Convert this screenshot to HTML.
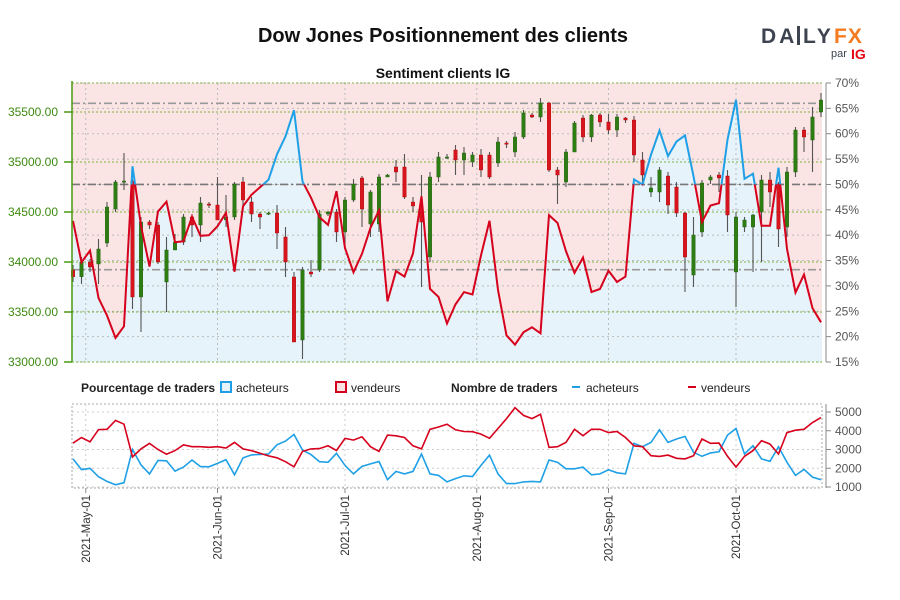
<!DOCTYPE html>
<html><head><meta charset="utf-8"><style>
body{margin:0;background:#fff;}
svg{display:block;font-family:"Liberation Sans Narrow","Liberation Sans",sans-serif;}
</style></head><body>
<svg id="c" width="900" height="600" viewBox="0 0 900 600">
<text x="443" y="42" text-anchor="middle" font-family="Liberation Sans, sans-serif" font-weight="bold" font-size="20" fill="#111">Dow Jones Positionnement des clients</text>
<text x="443" y="78" text-anchor="middle" font-family="Liberation Sans, sans-serif" font-weight="bold" font-size="14" fill="#111">Sentiment clients IG</text>
<g font-family="Liberation Sans, sans-serif" font-weight="bold">
<text x="761" y="43" font-size="21" fill="#3d4450" letter-spacing="3">DA</text>
<rect x="797" y="26" width="3" height="19" fill="#3d4450"/>
<text x="803" y="43" font-size="21" fill="#3d4450" letter-spacing="3">LY</text>
<text x="834" y="43" font-size="21" fill="#f47b20" letter-spacing="1">FX</text>
<text x="831" y="57" font-size="11" font-weight="normal" fill="#3d4450">par</text>
<text x="851" y="59" font-size="14" fill="#e30613">IG</text>
</g>
<g id="main"></g>
<g id="legend" font-size="12" fill="#222">
<text x="81" y="392" font-weight="bold">Pourcentage de traders</text>
<rect x="221" y="382" width="10" height="10" fill="#e6f3fb" stroke="#1fa0e6" stroke-width="2"/>
<text x="236" y="392">acheteurs</text>
<rect x="336" y="382" width="10" height="10" fill="#fbe4e4" stroke="#d6001c" stroke-width="2"/>
<text x="351" y="392">vendeurs</text>
<text x="451" y="392" font-weight="bold">Nombre de traders</text>
<rect x="572" y="386" width="8" height="2" fill="#1fa0e6"/>
<text x="586" y="392">acheteurs</text>
<rect x="688" y="386" width="8" height="2" fill="#d6001c"/>
<text x="701" y="392">vendeurs</text>
</g>
</svg>
<script>
const buyers=[2500,1930,2000,1550,1300,1120,1230,3000,2180,1700,2420,2400,1850,2060,2440,2090,2080,2260,2460,1650,2550,2710,2740,2760,3250,3450,3800,2970,2730,2350,2320,
2800,2150,1700,2100,2230,2360,1390,1830,1700,1830,2760,1700,1620,1270,1450,1600,1560,2150,2700,1700,1180,1180,1270,1300,1270,2440,2320,1970,1970,
2060,1650,1700,1920,1760,1700,3330,3150,3380,4050,3380,3560,3700,2850,2640,2820,2880,3770,4120,2760,3200,2500,2370,3150,2320,1620,1940,1530,1390];
const sellers=[3340,3640,3410,4060,4080,4550,4350,2600,3030,3330,3000,2750,2940,3250,3150,3150,3120,3150,3080,3380,3030,2940,2800,2660,2560,2350,2080,2900,3030,3050,3200,
2950,3590,3500,3680,3150,2900,3770,3730,3640,3200,3030,4080,4200,4350,4050,3960,3950,3820,3600,4120,4650,5230,4820,4650,4880,3110,3150,3380,4080,
3730,4080,4080,3900,3960,3640,3200,3150,2670,2630,2700,2530,2500,2670,3560,3330,3340,2640,2060,2640,2940,3470,3290,2760,3900,4030,4080,4440,4700];
const opens=[33920,33853,34000,33980,34190,34530,34800,34810,33650,34400,34370,33800,34120,34200,34450,34370,34580,34570,34420,34450,34800,34600,34480,34480,34490,34250,33850,33220,33900,33920,34480,34500,34300,34620,34840,34380,34380,34850,34950,34950,34600,34560,34050,34850,35050,
35120,35020,35000,35070,35070,34990,35190,35100,35250,35470,35450,35590,34920,34800,35100,35440,35250,35470,35400,35320,35440,35420,35020,34700,34700,34860,34750,34490,33870,34300,34820,34870,34860,33900,34350,34350,34500,34820,34780,34350,34900,35320,35220,35500];
const closes=[33853,34000,33950,34130,34550,34800,34810,33650,34400,34370,34000,34120,34200,34450,34370,34590,34570,34420,34450,34780,34620,34480,34450,34490,34290,34000,33200,33920,33880,34480,34500,34300,34620,34780,34530,34700,34850,34870,34900,34650,34560,34400,34850,35050,35050,
35020,35090,35070,34920,34850,35200,35180,35250,35490,35450,35590,34920,34870,35100,35390,35250,35470,35400,35320,35450,35420,35070,34870,34740,34920,34570,34490,34050,34270,34790,34850,34840,34470,34450,34420,34470,34820,34700,34330,34900,35320,35250,35450,35620];
const highs=[33970,34050,34030,34230,34600,34820,35090,34830,34450,34420,34400,34250,34280,34480,34480,34650,34600,34850,34670,34800,34850,34650,34500,34500,34570,34350,33900,33950,34020,34520,34510,34530,34650,34830,34860,34720,34880,34880,35020,35080,34650,34870,34900,35100,35080,
35170,35150,35100,35130,35100,35250,35210,35300,35520,35490,35640,35600,34950,35130,35410,35470,35480,35490,35480,35480,35450,35460,35100,34850,34950,34900,34800,34500,34450,34820,34870,34900,34920,34500,34450,34480,34870,34900,34800,34950,35350,35350,35550,35690];
const lows=[33800,33780,33900,33780,34150,34500,34720,33530,33300,34330,33980,33500,34150,34170,34250,34200,34540,34420,34350,34420,34500,34400,34330,34470,34130,33850,33200,33030,33850,33900,34460,34200,34150,34600,34350,34250,34300,34850,34800,34630,34500,33750,34000,34800,35030,
34870,34870,34950,34850,34830,34950,35140,35050,35230,35440,35400,34900,34580,34750,35300,35200,35200,35350,35280,35250,35390,35000,34780,34650,34600,34480,34450,33700,33750,34250,34780,34700,34300,33550,34300,33900,34000,34550,34150,34250,34850,35100,34900,35450];
const priceTicks=[33000,33500,34000,34500,35000,35500];
const pctTicks=[15,20,25,30,35,40,45,50,55,60,65,70];
const countTicks=[1000,2000,3000,4000,5000];
const refLevels=[66,50,33.2];
const monthLabels=["2021-May-01","2021-Jun-01","2021-Jul-01","2021-Aug-01","2021-Sep-01","2021-Oct-01"];
const monthDays=[3,34,64,95,126,156];

const NS="http://www.w3.org/2000/svg";
const g=document.getElementById('main');
function mk(t,a,p){const e=document.createElementNS(NS,t);for(const k in a)e.setAttribute(k,a[k]);(p||g).appendChild(e);return e;}
const X0=72,X1=822,PT=83,PB=362,BT=404,BB=488;
const dayX=d=>73+d*4.25;
const ix=i=>dayX(i*2);
const py=p=>PB-(p-33000)*0.1;
const qy=q=>PT+(70-q)*(PB-PT)/55;
const cy=c=>487-(c-1000)*75/4000;
const pct=buyers.map((b,i)=>b/(b+sellers[i])*100);

let e=mk('rect',{x:X0,y:PT,width:X1-X0,height:PB-PT,fill:'#fbe4e4'});

let linePts=pct.map((q,i)=>ix(i).toFixed(1)+','+qy(q).toFixed(1));
e=mk('polygon',{points:X0+','+PB+' '+linePts.join(' ')+' '+X1+','+qy(pct[pct.length-1]).toFixed(1)+' '+X1+','+PB,fill:'#e6f3fb'});

pctTicks.forEach(q=>{e=mk('line',{x1:X0,x2:X1,y1:qy(q),y2:qy(q),stroke:'#bbb','stroke-dasharray':'2,3','stroke-width':1});
});
monthDays.forEach(d=>{e=mk('line',{x1:dayX(d),x2:dayX(d),y1:PT,y2:PB,stroke:'#bbb','stroke-dasharray':'2,3'});
});
priceTicks.forEach(p=>{e=mk('line',{x1:X0,x2:X1,y1:py(p),y2:py(p),stroke:'#7cb342','stroke-dasharray':'2,2'});
});
e=mk('line',{x1:X0,x2:X1,y1:PT,y2:PT,stroke:'#7cb342','stroke-dasharray':'2,2'});

refLevels.forEach(q=>{e=mk('line',{x1:X0,x2:X1,y1:qy(q),y2:qy(q),stroke:q==50?'#777':'#999','stroke-dasharray':'8,3,2,3','stroke-width':1.6});
});
opens.forEach((o,i)=>{const c=closes[i],x=ix(i),up=c>=o;
 e=mk('line',{x1:x,x2:x,y1:py(highs[i]),y2:py(lows[i]),stroke:'#555','stroke-width':1.1});
 
 const t=py(Math.max(o,c)),b=py(Math.min(o,c));
 e=mk('rect',{x:x-1.7,y:t,width:3.4,height:Math.max(1.2,b-t),fill:up?'#2e7d12':'#d8141e',stroke:up?'#1d5a0b':'#a00','stroke-width':0.4});
 });
const defs=mk('defs',{});
const c1=mk('clipPath',{id:'above'},defs);mk('rect',{x:0,y:0,width:900,height:qy(50)},c1);
const c2=mk('clipPath',{id:'below'},defs);mk('rect',{x:0,y:qy(50),width:900,height:600},c2);
e=mk('polyline',{points:linePts.join(' '),fill:'none',stroke:'#1fa0e6','stroke-width':2,'clip-path':'url(#above)'});

e=mk('polyline',{points:linePts.join(' '),fill:'none',stroke:'#d6001c','stroke-width':2,'clip-path':'url(#below)'});

e=mk('line',{x1:X0,x2:X0,y1:PT-2,y2:PB,stroke:'#4a9a12','stroke-width':1.5});

e=mk('line',{x1:X1+4,x2:X1+4,y1:PT,y2:PB,stroke:'#888','stroke-width':1});

priceTicks.forEach(p=>{mk('line',{x1:X0-8,x2:X0,y1:py(p),y2:py(p),stroke:'#4a9a12','stroke-width':1.5});
 e=mk('text',{x:58,y:py(p)+4,'text-anchor':'end','font-size':12,fill:'#3d8a10'});e.textContent=p.toFixed(2);
 });
pctTicks.forEach(q=>{mk('line',{x1:X1+4,x2:X1+9,y1:qy(q),y2:qy(q),stroke:'#888'});
 e=mk('text',{x:835,y:qy(q)+4,'font-size':12,fill:'#555'});e.textContent=q+'%';
 });
e=mk('rect',{x:X0,y:BT,width:X1-X0,height:BB-BT,fill:'none',stroke:'#aaa','stroke-dasharray':'2,2'});

countTicks.forEach(c=>{e=mk('line',{x1:X0,x2:X1,y1:cy(c),y2:cy(c),stroke:'#ccc','stroke-dasharray':'2,3'});
 
 mk('line',{x1:X1+4,x2:X1+9,y1:cy(c),y2:cy(c),stroke:'#888'});
 e=mk('text',{x:835,y:cy(c)+4,'font-size':12,fill:'#555'});e.textContent=c;
 });
e=mk('line',{x1:X1+4,x2:X1+4,y1:BT,y2:BB,stroke:'#888'});

monthDays.forEach((d,k)=>{const x=dayX(d);
 e=mk('line',{x1:x,x2:x,y1:BT,y2:BB,stroke:'#ccc','stroke-dasharray':'2,3'});
 
 mk('line',{x1:x,x2:x,y1:BB,y2:BB+5,stroke:'#888'});
 e=mk('text',{x:0,y:0,'font-size':11.5,fill:'#333','text-anchor':'end',transform:'translate('+(x+4)+',495) rotate(-90)'});
 e.textContent=monthLabels[k];
 });
e=mk('polyline',{points:buyers.map((b,i)=>ix(i).toFixed(1)+','+cy(b).toFixed(1)).join(' '),fill:'none',stroke:'#1fa0e6','stroke-width':1.6});

e=mk('polyline',{points:sellers.map((s,i)=>ix(i).toFixed(1)+','+cy(s).toFixed(1)).join(' '),fill:'none',stroke:'#d6001c','stroke-width':1.6});

</script>
</body></html>
